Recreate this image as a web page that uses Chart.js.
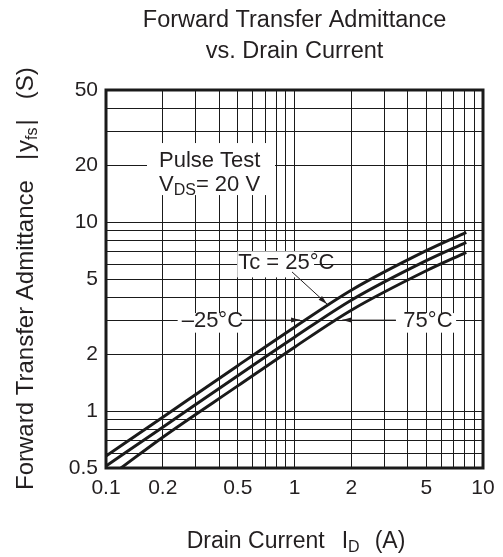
<!DOCTYPE html>
<html>
<head>
<meta charset="utf-8">
<script src="https://cdn.jsdelivr.net/npm/chart.js@4.4.0/dist/chart.umd.min.js"></script>
<style>
  html, body { margin: 0; padding: 0; background: #fff; }
  #wrap { width: 503px; height: 557px; }
</style>
</head>
<body>
<div id="wrap"><canvas id="c" width="503" height="557"></canvas></div>
<script>
// values (log-log)
const drainCurrent = [0.1, 0.2, 0.5, 1, 2, 5, 8.15];
const yfsMinus25 = [0.578, 0.929, 1.74, 2.78, 4.36, 7.06, 8.83];
const yfs25 = [0.512, 0.822, 1.54, 2.46, 3.86, 6.25, 7.81];
const drainCurrent75 = [0.12, 0.2, 0.5, 1, 2, 5, 8.15];
const yfs75 = [0.5, 0.728, 1.36, 2.18, 3.42, 5.53, 6.92];

const xTickLabels = [0.1, 0.2, 0.5, 1, 2, 5, 10];
const yTickLabels = [0.5, 1, 2, 5, 10, 20, 50];

const FONT = "'Liberation Sans', Arial, sans-serif";
const INK = "#231f20";

// log grid: 1..9 in every decade
function logGrid(min, max) {
  const out = [];
  for (let d = Math.floor(Math.log10(min)); d <= Math.ceil(Math.log10(max)); d++) {
    for (let k = 1; k <= 9; k++) {
      const v = +(k * Math.pow(10, d)).toPrecision(6);
      if (v >= min - 1e-9 && v <= max + 1e-9) out.push(v);
    }
  }
  return out;
}
const xGrid = logGrid(0.1, 10);
const yGrid = logGrid(0.5, 50);

const isLabel = (list, v) => list.some((t) => Math.abs(t - v) / t < 1e-6);

function pts(xs, ys) {
  return xs.map((x, i) => ({ x, y: ys[i] }));
}

// text annotations in data coordinates
const notes = [
  { x: 0.191, y: 19.5, parts: [["Pulse Test"]] },
  { x: 0.191, y: 14.6, parts: [["V"], ["DS", "sub"], ["= 20 V"]] },
  { x: 0.503, y: 5.63, parts: [["Tc = 25°C"]] },
  { x: 0.252, y: 2.8, parts: [["–25°C"]] },
  { x: 3.78, y: 2.8, parts: [["75°C"]] },
];
// white boxes behind the notes: [x0, y0, x1, y1] in data units
const noteBoxes = [
  [0.165, 26.2, 0.788, 13.9],
  [0.497, 7.0, 1.27, 5.1],
  [0.24, 3.3, 0.52, 2.6],
  [3.45, 3.3, 7.2, 2.6],
];
// leader arrows: from -> tip, data units
const arrows = [
  { from: [0.97, 5.45], to: [1.487, 3.69] },
  { from: [0.52, 3.03], to: [1.07, 3.03] },
  { from: [3.45, 3.03], to: [1.79, 3.03] },
];

function drawParts(ctx, parts, x, y, size) {
  let cx = x;
  for (const [txt, kind] of parts) {
    if (kind === "sub") {
      ctx.font = `${Math.round(size * 0.72)}px ${FONT}`;
      ctx.fillText(txt, cx, y + size * 0.2);
      cx += ctx.measureText(txt).width;
    } else {
      ctx.font = `${size}px ${FONT}`;
      ctx.fillText(txt, cx, y);
      cx += ctx.measureText(txt).width;
    }
  }
}

const decor = {
  id: "decor",
  beforeDatasetsDraw(chart) {
    const { ctx, scales: { x, y } } = chart;
    ctx.save();
    ctx.fillStyle = "#fff";
    for (const [x0, y0, x1, y1] of noteBoxes) {
      const px0 = x.getPixelForValue(x0), px1 = x.getPixelForValue(x1);
      const py0 = y.getPixelForValue(y0), py1 = y.getPixelForValue(y1);
      ctx.fillRect(px0, py0, px1 - px0, py1 - py0);
    }
    ctx.fillStyle = INK;
    ctx.textBaseline = "alphabetic";
    ctx.textAlign = "left";
    for (const n of notes) {
      drawParts(ctx, n.parts, x.getPixelForValue(n.x), y.getPixelForValue(n.y), 22);
    }
    ctx.strokeStyle = INK;
    ctx.lineWidth = 1;
    for (const a of arrows) {
      const x0 = x.getPixelForValue(a.from[0]), y0 = y.getPixelForValue(a.from[1]);
      const x1 = x.getPixelForValue(a.to[0]), y1 = y.getPixelForValue(a.to[1]);
      const ang = Math.atan2(y1 - y0, x1 - x0);
      ctx.beginPath();
      ctx.moveTo(x0, y0);
      ctx.lineTo(x1, y1);
      ctx.stroke();
      ctx.beginPath();
      ctx.moveTo(x1, y1);
      ctx.lineTo(x1 - 9 * Math.cos(ang) + 2.5 * Math.sin(ang), y1 - 9 * Math.sin(ang) - 2.5 * Math.cos(ang));
      ctx.lineTo(x1 - 9 * Math.cos(ang) - 2.5 * Math.sin(ang), y1 - 9 * Math.sin(ang) + 2.5 * Math.cos(ang));
      ctx.closePath();
      ctx.fill();
    }
    ctx.restore();
  },
  afterDraw(chart) {
    const { ctx, chartArea: ca } = chart;
    ctx.save();
    // frame
    ctx.strokeStyle = "#1a1a1a";
    ctx.lineWidth = 3;
    ctx.strokeRect(ca.left, ca.top, ca.right - ca.left, ca.bottom - ca.top);

    ctx.fillStyle = INK;
    ctx.textBaseline = "alphabetic";
    // title
    ctx.textAlign = "center";
    ctx.font = `23.5px ${FONT}`;
    const cx = (ca.left + ca.right) / 2;
    ctx.fillText("Forward Transfer Admittance", cx, 27);
    ctx.fillText("vs. Drain Current", cx, 58);

    // x axis title
    ctx.textAlign = "left";
    const xParts = [["Drain Current", null, 17], ["I", null, 0], ["D", "sub", 15], ["(A)", null, 0]];
    let w = 0;
    for (const [t, k, gap] of xParts) {
      ctx.font = k === "sub" ? `16px ${FONT}` : `23px ${FONT}`;
      w += ctx.measureText(t).width + gap;
    }
    let px = 296 - w / 2;
    for (const [t, k, gap] of xParts) {
      ctx.font = k === "sub" ? `16px ${FONT}` : `23px ${FONT}`;
      ctx.fillText(t, px, k === "sub" ? 552 : 548);
      px += ctx.measureText(t).width + gap;
    }

    // y axis title (rotated)
    ctx.translate(33, 490);
    ctx.rotate(-Math.PI / 2);
    const yParts = [["Forward Transfer Admittance", null, 20], ["|", null, 2], ["y", null, 0], ["fs", "sub", 2], ["|", null, 20], ["(S)", null, 0]];
    let py = 0;
    for (const [t, k, gap] of yParts) {
      ctx.font = k === "sub" ? `16px ${FONT}` : `24px ${FONT}`;
      ctx.fillText(t, py, k === "sub" ? 4 : 0);
      py += ctx.measureText(t).width + gap;
    }
    ctx.restore();
  },
};

new Chart(document.getElementById("c"), {
  type: "line",
  data: {
    datasets: [
      { label: "-25°C", data: pts(drainCurrent, yfsMinus25) },
      { label: "25°C", data: pts(drainCurrent, yfs25) },
      { label: "75°C", data: pts(drainCurrent75, yfs75) },
    ].map((d) => ({
      ...d,
      borderColor: "#1a1a1a",
      borderWidth: 3,
      pointRadius: 0,
      cubicInterpolationMode: "monotone",
      fill: false,
    })),
  },
  options: {
    responsive: false,
    animation: false,
    events: [],
    layout: { padding: { top: 90, right: 20, bottom: 0, left: 0 } },
    plugins: { legend: { display: false }, title: { display: false }, tooltip: { enabled: false } },
    scales: {
      x: {
        type: "logarithmic",
        min: 0.1,
        max: 10,
        afterFit: (s) => { s.height = 89; },
        afterBuildTicks: (s) => { s.ticks = xGrid.map((v) => ({ value: v })); },
        grid: { color: "#1a1a1a", lineWidth: 1, drawTicks: false },
        border: { display: false },
        ticks: {
          autoSkip: false,
          maxRotation: 0,
          padding: 8,
          color: INK,
          font: { family: FONT, size: 21 },
          callback: (v) => (isLabel(xTickLabels, v) ? String(v) : ""),
        },
      },
      y: {
        type: "logarithmic",
        min: 0.5,
        max: 50,
        afterFit: (s) => { s.width = 106; },
        afterBuildTicks: (s) => { s.ticks = yGrid.map((v) => ({ value: v })); },
        grid: { color: "#1a1a1a", lineWidth: 1, drawTicks: false },
        border: { display: false },
        ticks: {
          autoSkip: false,
          padding: 8,
          color: INK,
          font: { family: FONT, size: 21 },
          callback: (v) => (isLabel(yTickLabels, v) ? String(v) : ""),
        },
      },
    },
  },
  plugins: [decor],
});
</script>
</body>
</html>
